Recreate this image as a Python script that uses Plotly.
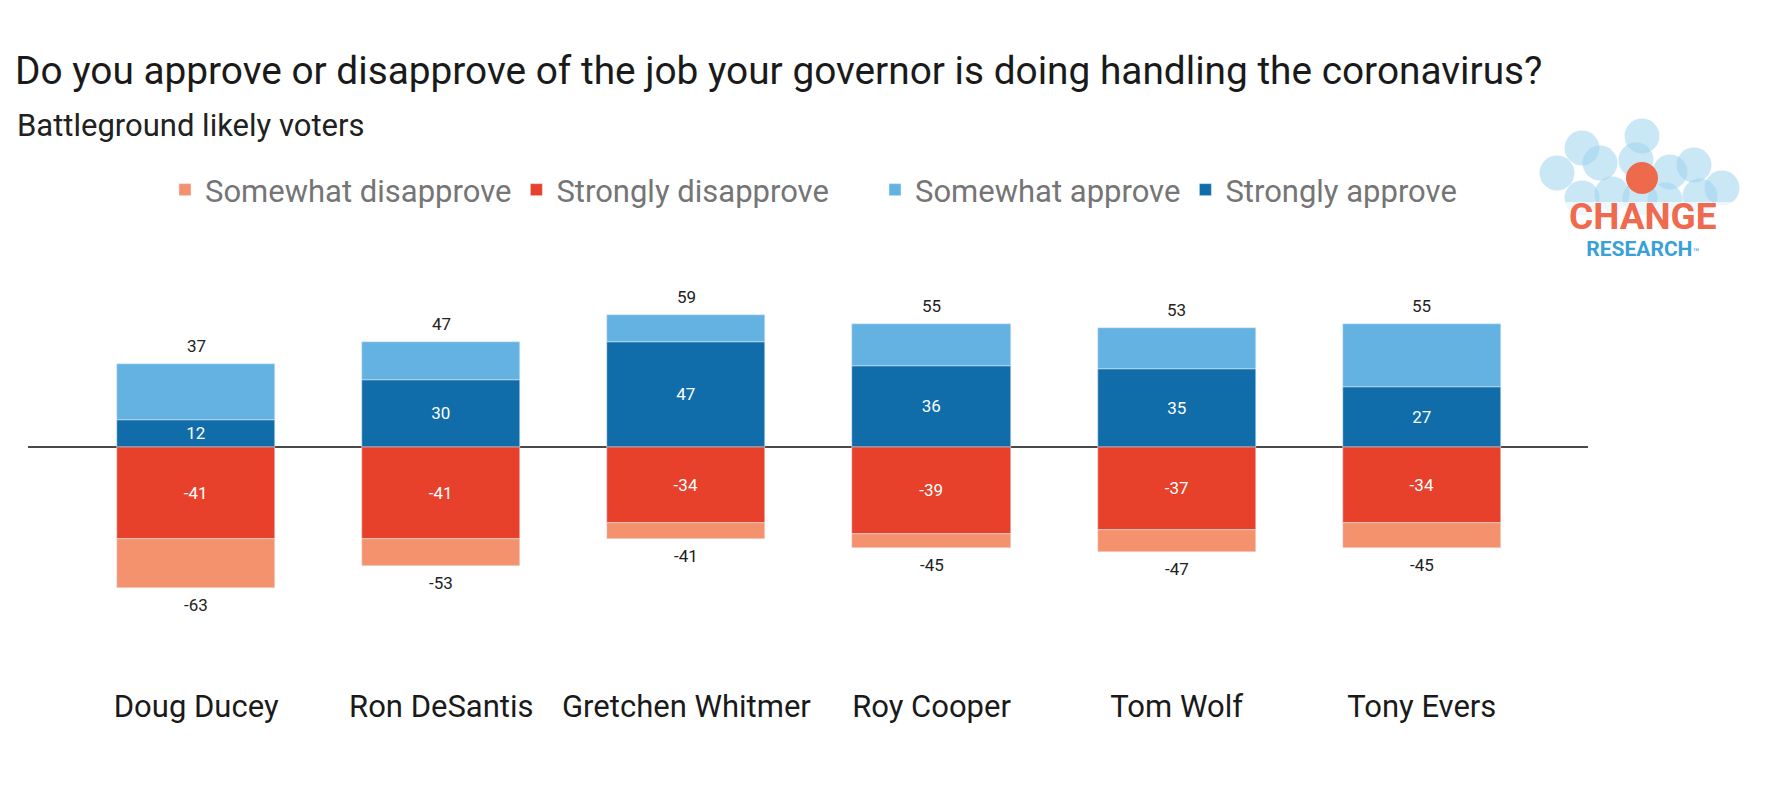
import plotly.graph_objects as go

governors = ["Doug Ducey", "Ron DeSantis", "Gretchen Whitmer", "Roy Cooper", "Tom Wolf", "Tony Evers"]
strongly_approve = [12, 30, 47, 36, 35, 27]
somewhat_approve = [25, 17, 12, 19, 18, 28]
strongly_disapprove = [-41, -41, -34, -39, -37, -34]
somewhat_disapprove = [-22, -12, -7, -6, -10, -11]
total_approve = [37, 47, 59, 55, 53, 55]
total_disapprove = [-63, -53, -41, -45, -47, -45]

# page geometry (pixels); the page body adds an 8px offset
OFF = 8
W, H = 1782, 792
L, R, T, B = 20, 202, 222, 115
pw = W - L - R
ph = H - T - B

def px(x):
    # page pixel -> paper x
    return (x - OFF - L) / pw

def py(y):
    # page pixel -> paper y
    return (H - B - (y - OFF)) / ph

FONT = "Roboto"
bar_w = 0.645

fig = go.Figure()

fig.add_trace(go.Bar(x=governors, y=strongly_disapprove, name="Strongly disapprove",
                     marker_color="#E8412B", width=bar_w, legend="legend", legendrank=2,
                     text=strongly_disapprove, textposition="inside", insidetextanchor="middle",
                     textfont=dict(color="white", size=17, family=FONT), constraintext="none"))
fig.add_trace(go.Bar(x=governors, y=somewhat_disapprove, name="Somewhat disapprove",
                     marker_color="#F4926E", width=bar_w, legend="legend", legendrank=1))
fig.add_trace(go.Bar(x=governors, y=strongly_approve, name="Strongly approve",
                     marker_color="#106DA9", width=bar_w, legend="legend2", legendrank=4,
                     text=strongly_approve, textposition="inside", insidetextanchor="middle",
                     textfont=dict(color="white", size=17, family=FONT), constraintext="none"))
fig.add_trace(go.Bar(x=governors, y=somewhat_approve, name="Somewhat approve",
                     marker_color="#64B2E2", width=bar_w, legend="legend2", legendrank=3))

for g, v in zip(governors, total_approve):
    fig.add_annotation(x=g, y=v, text=str(v), showarrow=False, yshift=18,
                       font=dict(size=17, color="#222222", family=FONT))
for g, v in zip(governors, total_disapprove):
    fig.add_annotation(x=g, y=v, text=str(v), showarrow=False, yshift=-17,
                       font=dict(size=17, color="#222222", family=FONT))

# subtitle
fig.add_annotation(x=px(15), y=py(126), xref="paper", yref="paper", text="Battleground likely voters",
                   showarrow=False, xanchor="left", yanchor="middle",
                   font=dict(size=31, color="#212121", family=FONT))

# Change Research logo
circles = [(1557, 173), (1582, 148), (1600, 163), (1642, 136), (1636, 160), (1670, 172),
           (1694, 165), (1722, 188), (1700, 196), (1582, 198), (1612, 194), (1665, 200),
           (1640, 198)]
for cx, cy in circles:
    r = 17.5
    fig.add_shape(type="circle", xref="paper", yref="paper",
                  x0=px(cx - r), x1=px(cx + r), y0=py(cy + r), y1=py(cy - r),
                  fillcolor="#9ED3EE", opacity=0.55, line_width=0, layer="above")
fig.add_shape(type="circle", xref="paper", yref="paper",
              x0=px(1642 - 16), x1=px(1642 + 16), y0=py(178 + 16), y1=py(178 - 16),
              fillcolor="#EE6A4D", line_width=0, layer="above")
fig.add_shape(type="rect", xref="paper", yref="paper",
              x0=px(1535), x1=px(1760), y0=py(262), y1=py(202),
              fillcolor="white", opacity=0.65, line_width=0, layer="above")
logo_text = ("<span style='font-size:37px;color:#EF6A4E'><b>CHANGE</b></span><br>"
             "<b>RESEARCH</b><span style='font-size:11px'>™</span>")
fig.add_annotation(x=px(1643), y=py(228), xref="paper", yref="paper", text=logo_text,
                   showarrow=False, xanchor="center", yanchor="middle", align="center",
                   font=dict(size=21, color="#3AA0D8", family=FONT))

legend_style = dict(orientation="h", yanchor="middle", xanchor="left",
                    font=dict(size=31, color="#757575", family=FONT),
                    bgcolor="rgba(0,0,0,0)", traceorder="normal")

fig.update_layout(
    width=W, height=H,
    margin=dict(l=L, r=R, t=T, b=B),
    barmode="relative",
    bargap=0,
    plot_bgcolor="white",
    paper_bgcolor="white",
    font=dict(family=FONT),
    title=dict(text="Do you approve or disapprove of the job your governor is doing handling the coronavirus?",
               xref="container", x=(15 - OFF) / W, xanchor="left",
               yref="container", y=1 - (70 - OFF) / H, yanchor="middle",
               font=dict(size=38.8, color="#1a1a1a", family=FONT)),
    legend=dict(x=px(165), y=py(190), **legend_style),
    legend2=dict(x=px(875), y=py(190), **legend_style),
    xaxis=dict(range=[-0.686, 5.678], showgrid=False, showline=False, ticks="",
               tickfont=dict(size=31, color="#1a1a1a", family=FONT)),
    yaxis=dict(range=[-106.25, 96.9], showgrid=False, showticklabels=False,
               zeroline=True, zerolinecolor="#4a4a4a", zerolinewidth=1.5),
    showlegend=True,
)

fig.write_html("out.html")
